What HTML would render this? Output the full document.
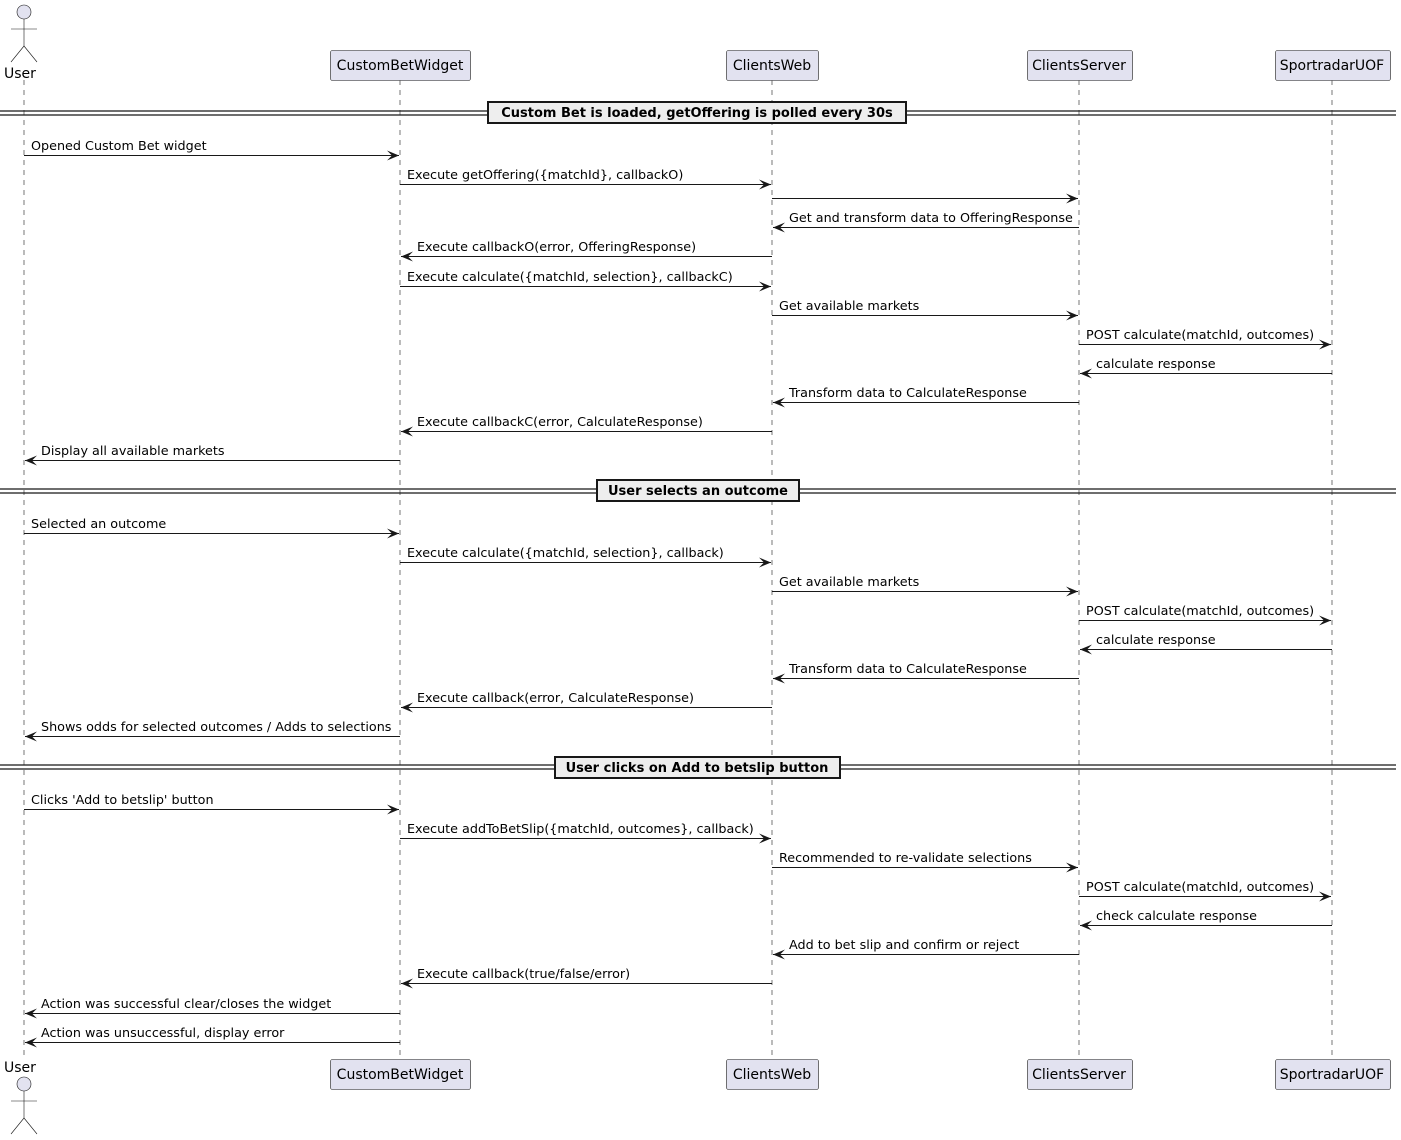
<!DOCTYPE html>
<html><head><meta charset="utf-8"><style>
html,body{margin:0;padding:0;background:#fff;}
svg{display:block;}
text{font-family:"DejaVu Sans","Liberation Sans",sans-serif;}
</style></head><body>
<svg width="1401" height="1140" viewBox="0 0 1401 1140" xmlns="http://www.w3.org/2000/svg">
<g stroke="#555" stroke-width="0.8" stroke-dasharray="5,5">
<line x1="24" y1="80" x2="24" y2="1058"/>
<line x1="400" y1="80" x2="400" y2="1058"/>
<line x1="772" y1="80" x2="772" y2="1058"/>
<line x1="1079" y1="80" x2="1079" y2="1058"/>
<line x1="1332" y1="80" x2="1332" y2="1058"/>
</g>
<g fill="#E2E2F0" stroke="#181818" stroke-width="0.6">
<circle cx="24" cy="12" r="7"/>
<line x1="24" y1="19" x2="24" y2="46"/><line x1="11" y1="29" x2="37" y2="29"/>
<line x1="24" y1="46" x2="11" y2="62"/><line x1="24" y1="46" x2="37" y2="62"/>
<circle cx="24" cy="1084" r="7"/>
<line x1="24" y1="1091" x2="24" y2="1118"/><line x1="11" y1="1101" x2="37" y2="1101"/>
<line x1="24" y1="1118" x2="11" y2="1134"/><line x1="24" y1="1118" x2="37" y2="1134"/>
</g>
<g font-size="14" fill="#000">
<text x="4" y="78">User</text>
<text x="4" y="1072">User</text>
</g>
<g fill="#E2E2F0" stroke="#181818" stroke-width="0.6">
<rect x="330.5" y="50.5" width="140" height="30" rx="2"/>
<rect x="726.5" y="50.5" width="92" height="30" rx="2"/>
<rect x="1027.5" y="50.5" width="105" height="30" rx="2"/>
<rect x="1275.5" y="50.5" width="115" height="30" rx="2"/>
<rect x="330.5" y="1059.5" width="140" height="30" rx="2"/>
<rect x="726.5" y="1059.5" width="92" height="30" rx="2"/>
<rect x="1027.5" y="1059.5" width="105" height="30" rx="2"/>
<rect x="1275.5" y="1059.5" width="115" height="30" rx="2"/>
</g>
<g font-size="14" fill="#000" text-anchor="middle">
<text x="400" y="70">CustomBetWidget</text>
<text x="772" y="70">ClientsWeb</text>
<text x="1079" y="70">ClientsServer</text>
<text x="1332" y="70">SportradarUOF</text>
<text x="400" y="1079">CustomBetWidget</text>
<text x="772" y="1079">ClientsWeb</text>
<text x="1079" y="1079">ClientsServer</text>
<text x="1332" y="1079">SportradarUOF</text>
</g>
<g stroke="#181818" stroke-width="1.2">
<line x1="0" y1="111" x2="1396" y2="111"/><line x1="0" y1="115" x2="1396" y2="115"/>
<line x1="0" y1="489" x2="1396" y2="489"/><line x1="0" y1="493" x2="1396" y2="493"/>
<line x1="0" y1="765" x2="1396" y2="765"/><line x1="0" y1="769" x2="1396" y2="769"/>
</g>
<g fill="#EEEEEE" stroke="#181818" stroke-width="2">
<rect x="488" y="102" width="418" height="21"/>
<rect x="597" y="480" width="202" height="21"/>
<rect x="555" y="757" width="285" height="21"/>
</g>
<g font-size="13" font-weight="bold" fill="#000" text-anchor="middle">
<text x="697" y="117">Custom Bet is loaded, getOffering is polled every 30s</text>
<text x="698" y="495">User selects an outcome</text>
<text x="697" y="772">User clicks on Add to betslip button</text>
</g>
<g id="msgs" stroke="#181818" fill="#181818" font-size="12.75"></g>
</svg>
<script>
var X={U:24,B:400,W:772,S:1079,R:1332};
var M=[
["U","B",155,"Opened Custom Bet widget"],
["B","W",184,"Execute getOffering({matchId}, callbackO)"],
["W","S",198,""],
["S","W",227,"Get and transform data to OfferingResponse"],
["W","B",256,"Execute callbackO(error, OfferingResponse)"],
["B","W",286,"Execute calculate({matchId, selection}, callbackC)"],
["W","S",315,"Get available markets"],
["S","R",344,"POST calculate(matchId, outcomes)"],
["R","S",373,"calculate response"],
["S","W",402,"Transform data to CalculateResponse"],
["W","B",431,"Execute callbackC(error, CalculateResponse)"],
["B","U",460,"Display all available markets"],
["U","B",533,"Selected an outcome"],
["B","W",562,"Execute calculate({matchId, selection}, callback)"],
["W","S",591,"Get available markets"],
["S","R",620,"POST calculate(matchId, outcomes)"],
["R","S",649,"calculate response"],
["S","W",678,"Transform data to CalculateResponse"],
["W","B",707,"Execute callback(error, CalculateResponse)"],
["B","U",736,"Shows odds for selected outcomes / Adds to selections"],
["U","B",809,"Clicks 'Add to betslip' button"],
["B","W",838,"Execute addToBetSlip({matchId, outcomes}, callback)"],
["W","S",867,"Recommended to re-validate selections"],
["S","R",896,"POST calculate(matchId, outcomes)"],
["R","S",925,"check calculate response"],
["S","W",954,"Add to bet slip and confirm or reject"],
["W","B",983,"Execute callback(true/false/error)"],
["B","U",1013,"Action was successful clear/closes the widget"],
["B","U",1042,"Action was unsuccessful, display error"]
];
var g=document.getElementById('msgs'),h='';
M.forEach(function(m){
 var a=X[m[0]],b=X[m[1]],y=m[2]+0.5,d=b>a?1:-1;
 h+='<line x1="'+a+'" y1="'+y+'" x2="'+(b-d)+'" y2="'+y+'" stroke-width="1"/>';
 var t=b-d;
 h+='<polygon stroke="none" points="'+t+','+y+' '+(t-12*d)+','+(y-5)+' '+(t-7*d)+','+y+' '+(t-12*d)+','+(y+5)+'"/>';
 var tx=d>0?a+7:b+17;
 if(m[3])h+='<text stroke="none" fill="#000" x="'+tx+'" y="'+(m[2]-5)+'">'+m[3].replace(/&/g,'&amp;')+'</text>';
});
g.innerHTML=h;
</script>
</body></html>
